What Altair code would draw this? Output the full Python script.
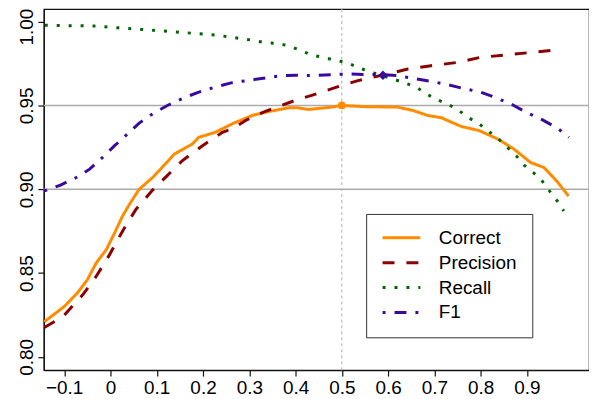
import altair as alt
import pandas as pd

# ---- data ----
series_names = ["Correct", "Precision", "Recall", "F1"]
series_colors = ["#FF8C00", "#8B0000", "#006400", "#3A0A9E"]
series_dashes = [[1, 0], [12, 12], [3, 9], [3, 9, 12, 9]]

correct_x = [-0.143, -0.1, -0.072, -0.05, -0.031, -0.009, 0.009, 0.026, 0.041, 0.062,
             0.091, 0.115, 0.138, 0.177, 0.191, 0.227, 0.263, 0.306, 0.335, 0.385,
             0.404, 0.428, 0.478, 0.5, 0.55, 0.621, 0.654, 0.686, 0.715, 0.758,
             0.797, 0.837, 0.872, 0.908, 0.937, 0.966, 0.99]
correct_y = [0.821, 0.830, 0.838, 0.846, 0.856, 0.864, 0.874, 0.884, 0.891, 0.900,
             0.907, 0.914, 0.921, 0.927, 0.931, 0.934, 0.939, 0.944, 0.946, 0.9486,
             0.9486, 0.9476, 0.949, 0.950, 0.9493, 0.949, 0.947, 0.944, 0.9427, 0.9375,
             0.935, 0.930, 0.924, 0.916, 0.913, 0.9045, 0.896]

precision_x = [-0.143, -0.103, -0.06, -0.031, -0.002, 0.026, 0.055, 0.091, 0.12, 0.155,
               0.199, 0.242, 0.263, 0.292, 0.306, 0.335, 0.399, 0.435, 0.492, 0.535,
               0.586, 0.643, 0.693, 0.751, 0.80, 0.851, 0.908, 0.958, 0.975]
precision_y = [0.8175, 0.824, 0.837, 0.848, 0.861, 0.875, 0.888, 0.8995, 0.9074, 0.917,
               0.926, 0.934, 0.936, 0.941, 0.943, 0.9465, 0.953, 0.956, 0.9612, 0.9648,
               0.968, 0.9717, 0.9737, 0.9757, 0.9787, 0.980, 0.9816, 0.983, 0.9833]

recall_x = [-0.142, -0.088, -0.036, 0.017, 0.069, 0.123, 0.176, 0.202, 0.227, 0.254,
            0.28, 0.305, 0.332, 0.36, 0.385, 0.41, 0.435, 0.46, 0.485, 0.512,
            0.535, 0.561, 0.611, 0.636, 0.661, 0.682, 0.706, 0.731, 0.753, 0.774,
            0.797, 0.817, 0.839, 0.858, 0.877, 0.894, 0.914, 0.933, 0.949, 0.966, 0.98]
recall_y = [0.9979, 0.9976, 0.9974, 0.9963, 0.9953, 0.9943, 0.9931, 0.9925, 0.992, 0.991,
            0.990, 0.989, 0.9876, 0.987, 0.9856, 0.983, 0.980, 0.9787, 0.977, 0.9755,
            0.9727, 0.970, 0.9658, 0.9634, 0.961, 0.957, 0.9535, 0.9506, 0.947, 0.9427,
            0.939, 0.9347, 0.930, 0.925, 0.920, 0.9144, 0.910, 0.905, 0.899, 0.893, 0.887]

f1_x = [-0.143, -0.108, -0.074, -0.045, -0.017, 0.009, 0.041, 0.062, 0.091, 0.123,
        0.163, 0.191, 0.227, 0.263, 0.299, 0.335, 0.371, 0.403, 0.435, 0.478,
        0.514, 0.55, 0.591, 0.621, 0.657, 0.693, 0.729, 0.765, 0.80, 0.834,
        0.869, 0.901, 0.933, 0.966, 0.991]
f1_y = [0.899, 0.9025, 0.907, 0.912, 0.919, 0.926, 0.934, 0.9395, 0.945, 0.950,
        0.955, 0.958, 0.961, 0.9636, 0.965, 0.9664, 0.9678, 0.968, 0.9678, 0.9684,
        0.9688, 0.9684, 0.9684, 0.9678, 0.966, 0.9644, 0.9624, 0.960, 0.958, 0.9545,
        0.9504, 0.9456, 0.9415, 0.9365, 0.931]

x_ticks = [-0.1, 0, 0.1, 0.2, 0.3, 0.4, 0.5, 0.6, 0.7, 0.8, 0.9]
y_ticks = [0.80, 0.85, 0.90, 0.95, 1.00]
h_lines = [0.90, 0.95]
v_lines = [0.5]
correct_pt_x, correct_pt_y = [0.5], [0.950]
f1_pt_x, f1_pt_y = [0.589], [0.9680]

# ---- build tables ----
rows = []
for name, xs, ys in [("Correct", correct_x, correct_y), ("Precision", precision_x, precision_y),
                     ("Recall", recall_x, recall_y), ("F1", f1_x, f1_y)]:
    for i, (a, b) in enumerate(zip(xs, ys)):
        rows.append({"series": name, "x": a, "y": b, "i": i})
df = pd.DataFrame(rows)

xscale = alt.Scale(domain=[-0.1441, 1.0344], nice=False, zero=False)
yscale = alt.Scale(domain=[0.7921, 1.00754], nice=False, zero=False)

xaxis = alt.Axis(values=x_ticks, title=None, grid=False,
                 labelExpr="datum.value == 0 ? '0' : format(datum.value, '.1f')")
yaxis = alt.Axis(values=y_ticks, title=None, grid=False, format=".2f",
                 labelAngle=270, labelAlign="center", labelBaseline="alphabetic",
                 labelOffset=alt.condition("datum.value >= 0.999", alt.value(5), alt.value(0)))

hdf = pd.DataFrame({"y": h_lines})
vdf = pd.DataFrame({"x": v_lines})

hrules = alt.Chart(hdf).mark_rule(color="#ABABAB", strokeWidth=1.4).encode(
    y=alt.Y("y:Q", scale=yscale, axis=yaxis))
vrules = alt.Chart(vdf).mark_rule(color="#BDBDBD", strokeWidth=1.2, strokeDash=[3, 3]).encode(
    x=alt.X("x:Q", scale=xscale, axis=xaxis))

legend_kw = dict(title=None, orient="none", legendX=324, legendY=206,
                 symbolType="stroke", symbolSize=1444, symbolStrokeWidth=3,
                 clipHeight=18,
                 labelFontSize=19, labelFont="Liberation Sans",
                 labelColor="#000", labelOffset=17, rowPadding=6,
                 padding=15, strokeColor="#333", fillColor="#FFFFFF")

lines = alt.Chart(df).mark_line(strokeWidth=3, strokeCap="butt", clip=True).encode(
    x=alt.X("x:Q", scale=xscale, axis=xaxis),
    y=alt.Y("y:Q", scale=yscale, axis=yaxis),
    order="i:Q",
    color=alt.Color("series:N", scale=alt.Scale(domain=series_names, range=series_colors),
                    legend=alt.Legend(**legend_kw)),
    strokeDash=alt.StrokeDash("series:N",
                              scale=alt.Scale(domain=series_names, range=series_dashes),
                              legend=alt.Legend(**legend_kw)),
)

cpt = alt.Chart(pd.DataFrame({"x": correct_pt_x, "y": correct_pt_y})).mark_circle(
    color="#FF8C00", size=60, opacity=1).encode(
    x=alt.X("x:Q", scale=xscale, axis=xaxis), y=alt.Y("y:Q", scale=yscale, axis=yaxis))
fpt = alt.Chart(pd.DataFrame({"x": f1_pt_x, "y": f1_pt_y})).mark_point(
    shape="diamond", filled=True, color="#3A0A9E", size=90, opacity=1).encode(
    x=alt.X("x:Q", scale=xscale, axis=xaxis), y=alt.Y("y:Q", scale=yscale, axis=yaxis))

chart = alt.layer(hrules, vrules, lines, cpt, fpt).properties(
    width=548, height=363,
    autosize=alt.AutoSizeParams(type="none"),
    padding={"left": 36, "top": 0, "right": 0, "bottom": 28},
    background="#FFFFFF",
).configure_view(stroke="#111", strokeWidth=1.2).configure_axis(
    domainColor="#111", domainWidth=1.2, tickColor="#111", tickWidth=1.2, tickSize=6,
    labelFontSize=19, labelFont="Liberation Sans", labelColor="#000", labelPadding=5,
).configure_axisX(labelPadding=2, labelBaseline="top")

chart.save("out.html", embed_options={"renderer": "svg", "actions": False})
